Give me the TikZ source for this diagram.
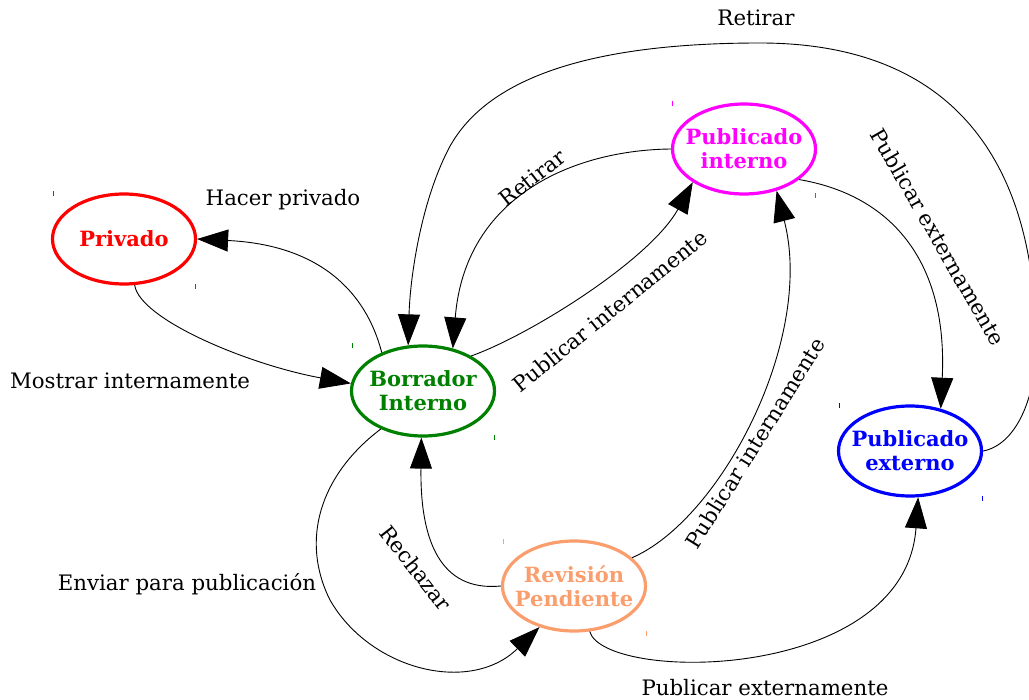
\documentclass[tikz,border=0pt]{standalone}
\usepackage{fontspec}
\setmainfont{DejaVu Serif}
\usetikzlibrary{arrows.meta,shapes.geometric}
\definecolor{dgreen}{RGB}{0,128,0}
\definecolor{salmonc}{RGB}{250,158,110}
\definecolor{magc}{RGB}{255,0,255}
\definecolor{bluec}{RGB}{0,0,255}
\definecolor{redc}{RGB}{255,0,0}
\begin{document}
\begin{tikzpicture}[x=1pt,y=-1pt,
  state/.style={ellipse, draw, line width=3.2pt, minimum width=143pt, minimum height=90pt,
    inner xsep=-20pt, inner ysep=0pt, align=center, font=\fontsize{21}{24}\selectfont\bfseries},
  tr/.style={line width=0.9pt, -{Triangle[length=31pt,width=22pt]}},
  lbl/.style={inner sep=0pt, font=\fontsize{21.3}{24}\selectfont},
  tick/.style={line width=1pt}]
\useasboundingbox (0,0) rectangle (1029,700);

\node[state, redc, text=redc] (priv) at (124,239) {Privado};
\node[state, dgreen, text=dgreen] (bor) at (423,391) {Borrador\\Interno};
\node[state, magc, text=magc] (pint) at (744,149) {Publicado\\interno};
\node[state, bluec, text=bluec] (pext) at (910,451) {Publicado\\externo};
\node[state, salmonc, text=salmonc] (rev) at (574,586) {Revisión\\Pendiente};

% small marks
\draw[tick, redc] (53,191) -- (53,196);
\draw[tick, redc] (195,284) -- (195,289);
\draw[tick, dgreen] (352,343) -- (352,348);
\draw[tick, dgreen] (494,435) -- (494,440);
\draw[tick, magc] (672,101) -- (672,106);
\draw[tick, magc] (815,193) -- (815,198);
\draw[tick, bluec] (839,403) -- (839,408);
\draw[tick, bluec] (982,496) -- (982,501);
\draw[tick, salmonc] (503,539) -- (503,544);
\draw[tick, salmonc] (646,631) -- (646,636);

% Borrador -> Privado
\draw[tr] (bor.137) .. controls (366,292) and (320,245) .. (priv.east);
\node[lbl] (l1) at (283,200) {Hacer privado};
% Privado -> Borrador
\draw[tr] (priv.-77) .. controls (140,320) and (250,365) .. (bor.174);
\node[lbl] (l2) at (130,381) {Mostrar internamente};
% Publicado interno -> Borrador
\draw[tr] (pint.west) .. controls (575,150) and (465,195) .. (bor.55);
\node[lbl, rotate=38] (l3) at (532,178) {Retirar};
% Borrador -> Publicado interno
\draw[tr] (bor.36) .. controls (530,335) and (650,260) .. (pint.213);
\node[lbl, rotate=39] (l4) at (610,311) {Publicar internamente};
% Publicado externo -> Borrador
\draw[tr] (pext.east) .. controls (1015,445) and (1036,400) .. (1036,345)
  .. controls (1036,170) and (960,43) .. (760,43)
  .. controls (590,43) and (485,78) .. (448,150)
  .. controls (420,205) and (410,280) .. (bor.108);
\node[lbl] (l5) at (756,18) {Retirar};
% Publicado interno -> Publicado externo
\draw[tr] (pint.-29) .. controls (890,195) and (948,260) .. (pext.54);
\node[lbl, rotate=-60] (l6) at (938,237) {Publicar externamente};
% Borrador -> Revision
\draw[tr] (bor.222) .. controls (320,475) and (300,540) .. (330,600)
  .. controls (370,670) and (470,695) .. (rev.230);
\node[lbl] (l7) at (187,584) {Enviar para publicación};
% Revision -> Borrador
\draw[tr] (rev.west) .. controls (440,592) and (420,540) .. (bor.-92);
\node[lbl, rotate=-52] (l8) at (416,568) {Rechazar};
% Revision -> Publicado interno
\draw[tr] (rev.26) .. controls (720,520) and (815,340) .. (pint.-52);
\node[lbl, rotate=58] (l9) at (755,443) {Publicar internamente};
% Revision -> Publicado externo
\draw[tr] (rev.-71) .. controls (605,683) and (905,683) .. (pext.-80);
\node[lbl] (l10) at (765,688) {Publicar externamente};
\end{tikzpicture}
\end{document}
